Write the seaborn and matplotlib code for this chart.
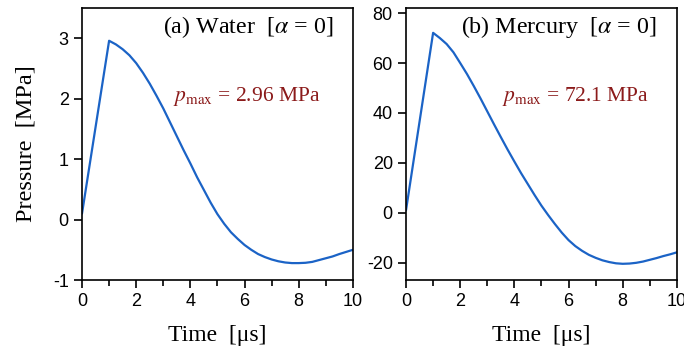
import matplotlib
matplotlib.use("Agg")
import matplotlib.pyplot as plt
import seaborn as sns
import pandas as pd
from matplotlib.ticker import MultipleLocator

# time axis [us]: start point, then 0.25 us steps from the peak on
time_us = [0, 1.0, 1.25, 1.5, 1.75, 2.0, 2.25, 2.5, 2.75, 3.0, 3.25, 3.5, 3.75,
           4.0, 4.25, 4.5, 4.75, 5.0, 5.25, 5.5, 5.75, 6.0, 6.25, 6.5, 6.75,
           7.0, 7.25, 7.5, 7.75, 8.0, 8.25, 8.5, 8.75, 9.0, 9.25, 9.5, 9.75, 10.0]

# pressure traces [MPa]
water = [0.1, 2.96, 2.90, 2.82, 2.72, 2.59, 2.43, 2.25, 2.05, 1.84, 1.61, 1.38, 1.15,
         0.93, 0.70, 0.49, 0.28, 0.09, -0.07, -0.21, -0.32, -0.42, -0.50, -0.57, -0.62,
         -0.66, -0.69, -0.71, -0.72, -0.72, -0.715, -0.70, -0.67, -0.64, -0.61, -0.57,
         -0.535, -0.50]
mercury = [1.0, 72.1, 70.0, 67.6, 64.3, 60.0, 55.6, 50.8, 45.8, 40.6, 35.4, 30.3, 25.3,
           20.5, 15.8, 11.4, 7.0, 2.8, -1.0, -4.6, -8.0, -11.0, -13.4, -15.3, -16.9,
           -18.1, -19.1, -19.8, -20.3, -20.5, -20.4, -20.1, -19.6, -18.9, -18.2, -17.4,
           -16.7, -15.9]

titles = [r"(a) Water  [$\alpha$ = 0]", r"(b) Mercury  [$\alpha$ = 0]"]
pmax_labels = [r"$p_{\rm max}$ = 2.96 MPa", r"$p_{\rm max}$ = 72.1 MPa"]
ylims = [(-1, 3.5), (-27, 82)]
ymajor = [1, 20]

sns.set_style("ticks")
plt.rcParams["mathtext.fontset"] = "stix"
plt.rcParams["font.family"] = ["Liberation Serif", "DejaVu Serif"]
plt.rcParams["axes.unicode_minus"] = False
plt.rcParams["text.color"] = "black"
plt.rcParams["axes.labelcolor"] = "black"
plt.rcParams["xtick.color"] = "black"
plt.rcParams["ytick.color"] = "black"

line_color = "#1b63c6"
text_color = "#8b1a1a"

fig = plt.figure(figsize=(6.84, 3.54), dpi=100)
axes = [fig.add_axes([0.1199, 0.209, 0.396, 0.768]),
        fig.add_axes([0.5936, 0.209, 0.396, 0.768])]

for i, (ax, p) in enumerate(zip(axes, [water, mercury])):
    df = pd.DataFrame({"t": time_us, "p": p})
    sns.lineplot(data=df, x="t", y="p", ax=ax, color=line_color, lw=1.6)
    ax.set_xlim(0, 10)
    ax.set_ylim(*ylims[i])
    ax.xaxis.set_major_locator(MultipleLocator(2))
    ax.xaxis.set_minor_locator(MultipleLocator(1))
    ax.yaxis.set_major_locator(MultipleLocator(ymajor[i]))
    ax.tick_params(which="major", direction="out", length=6, width=1.2,
                   labelsize=13, labelfontfamily="Liberation Sans")
    ax.tick_params(which="minor", direction="out", length=4, width=1.2)
    ax.tick_params(axis="y", which="minor", left=False)
    for sp in ax.spines.values():
        sp.set_visible(True)
        sp.set_linewidth(1.2)
        sp.set_color("black")
    ax.set_xlabel("Time  [\u03bcs]", fontsize=17, labelpad=11)
    ax.set_ylabel("")
    ax.text(0.926, 0.93, titles[i], transform=ax.transAxes, ha="right",
            va="center", fontsize=17.3)
    ax.text(0.335 if i == 0 else 0.355, 0.675, pmax_labels[i], transform=ax.transAxes,
            ha="left", va="center", fontsize=15.5, color=text_color)

axes[0].set_ylabel("Pressure  [MPa]", fontsize=17.5, labelpad=12)

fig.savefig("out.png", dpi=100)
